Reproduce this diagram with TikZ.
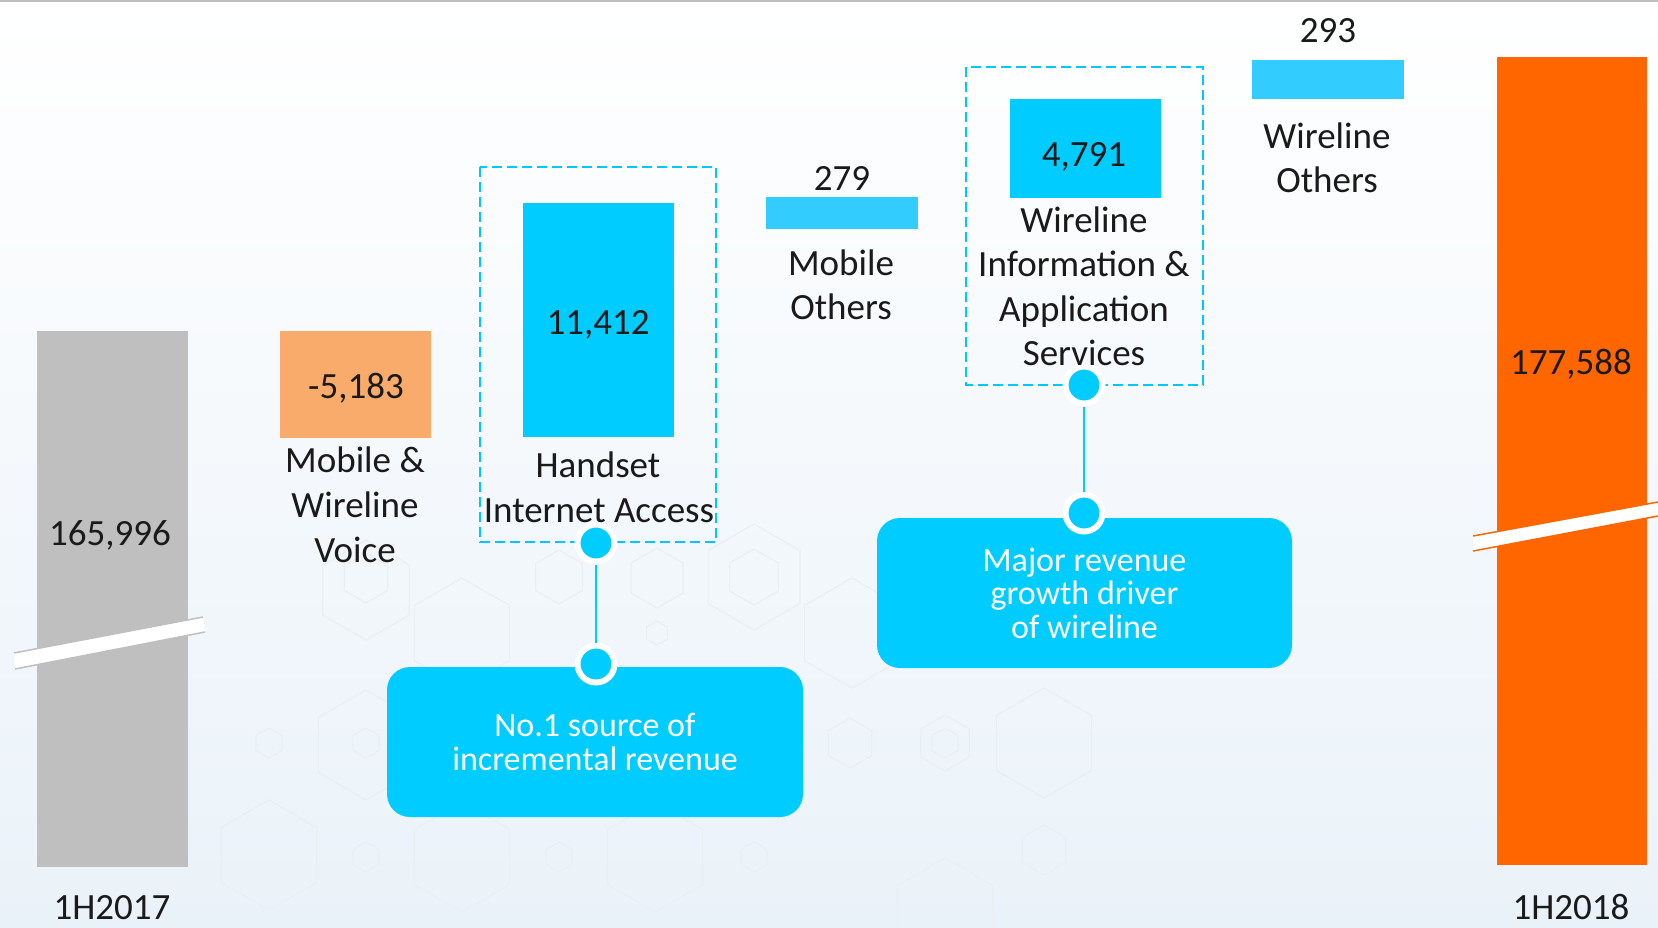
\documentclass[tikz,border=0pt]{standalone}
\usepackage{fontspec}
\setmainfont{Carlito}
\definecolor{txt}{HTML}{1A1A1A}
\definecolor{barblue}{HTML}{00CCFF}
\definecolor{lightblue}{HTML}{33CCFF}
\definecolor{peach}{HTML}{F8AB6B}
\definecolor{grbar}{HTML}{BFBFBF}
\definecolor{orng}{HTML}{FF6600}
\definecolor{dashblue}{HTML}{00C8FF}
\definecolor{hexc}{HTML}{EAEFF4}
\definecolor{bgbot}{HTML}{EAF2F9}
\begin{document}
\begin{tikzpicture}[x=1pt,y=-1pt,
  lbl/.style={font=\fontsize{37}{44.5}\selectfont, text=txt, inner sep=0pt, anchor=base},
  callout/.style={fill=barblue, rounded corners=23pt, text=white, align=center,
    font=\fontsize{34}{33.5}\selectfont, inner sep=0pt},
  dot/.style={circle, fill=barblue, draw=white, line width=6pt, minimum size=37pt, inner sep=0pt},
  conn/.style={draw=barblue, line width=2.5pt},
  dashbox/.style={draw=dashblue, line width=2pt, dash pattern=on 10pt off 5pt},
  hex/.style={draw=hexc, line width=1.2pt},
  brk/.style={line width=1.5pt}]
% background
\shade[top color=white, middle color=white, bottom color=bgbot] (0,0) rectangle (1658,927);
\useasboundingbox (0,0) rectangle (1658,927);
\draw[grbar, line width=2pt] (0,0.5) -- (1658,0.5);
% faint hexagons
\foreach \x/\y/\r in {366/590/50, 366/578/25, 462/633/55, 559/577/27, 657/578/30, 657/633/12,
  754/577/53, 754/577/28, 852/633/55, 269/743/15, 366/745/55, 366/743/15, 269/855/55,
  366/857/15, 462/857/55, 559/857/15, 655/857/55, 754/857/15, 850/743/25, 945/743/28,
  945/743/15, 1044/743/55, 1044/850/25, 945/913/55}
  \draw[hex] (\x,\y) +(30:\r) -- +(90:\r) -- +(150:\r) -- +(210:\r) -- +(270:\r) -- +(330:\r) -- cycle;
% bars
\fill[grbar] (37,331) rectangle (188,867);
\fill[white] (14,653) -- (203,617) -- (205,632) -- (15,669) -- cycle;
\draw[grbar, brk] (14,653) -- (203,617);
\draw[grbar, brk] (15,669) -- (205,632);
\fill[peach] (280,331) rectangle (431,438);
\fill[barblue] (523,203) rectangle (674,437);
\fill[lightblue] (766,197) rectangle (918,229);
\fill[barblue] (1010,99) rectangle (1161,198);
\fill[lightblue] (1252,60) rectangle (1404,99);
\fill[orng] (1497,57) rectangle (1647,865);
\fill[white] (1473,536) -- (1658,502) -- (1658,516) -- (1473,551) -- cycle;
\draw[orng, brk] (1473,536) -- (1658,502);
\draw[orng, brk] (1473,551) -- (1658,516);
% dashed groups
\draw[dashbox] (480,167) rectangle (716,542);
\draw[dashbox] (966,67) rectangle (1203,385);
% callouts
\node[callout, minimum width=416pt, minimum height=150pt] (c1) at (595,742)
  {No.1 source of\\incremental revenue};
\node[callout, minimum width=415pt, minimum height=150pt] (c2) at (1084.5,593)
  {Major revenue\\growth driver\\of wireline};
\node[dot] (d1a) at (596,543) {};
\node[dot] (d1b) at (596,664) {};
\node[dot] (d2a) at (1084,385) {};
\node[dot] (d2b) at (1084,513) {};
\draw[conn] (d1a) -- (d1b);
\draw[conn] (d2a) -- (d2b);
% labels
\node[lbl] (v0) at (110,545) {165,996};
\node[lbl] (v1) at (356,398) {-5,183};
\node[lbl] (l1a) at (355,472) {Mobile \&};
\node[lbl] (l1b) at (355,517) {Wireline};
\node[lbl] (l1c) at (355,562) {Voice};
\node[lbl] (v2) at (598,334) {11,412};
\node[lbl] (l2a) at (598,477) {Handset};
\node[lbl] (l2b) at (599,522) {Internet Access};
\node[lbl] (v3) at (842,190) {279};
\node[lbl] (l3a) at (841,275) {Mobile};
\node[lbl] (l3b) at (841,319) {Others};
\node[lbl] (v4) at (1084,166) {4,791};
\node[lbl] (l4a) at (1084,232) {Wireline};
\node[lbl] (l4b) at (1084,276) {Information \&};
\node[lbl] (l4c) at (1084,321) {Application};
\node[lbl] (l4d) at (1084,365) {Services};
\node[lbl] (v5) at (1328,42) {293};
\node[lbl] (l5a) at (1327,148) {Wireline};
\node[lbl] (l5b) at (1327,192) {Others};
\node[lbl] (v6) at (1571,374) {177,588};
\node[lbl] (y1) at (112,919) {1H2017};
\node[lbl] (y2) at (1571,919) {1H2018};
\end{tikzpicture}
\end{document}
